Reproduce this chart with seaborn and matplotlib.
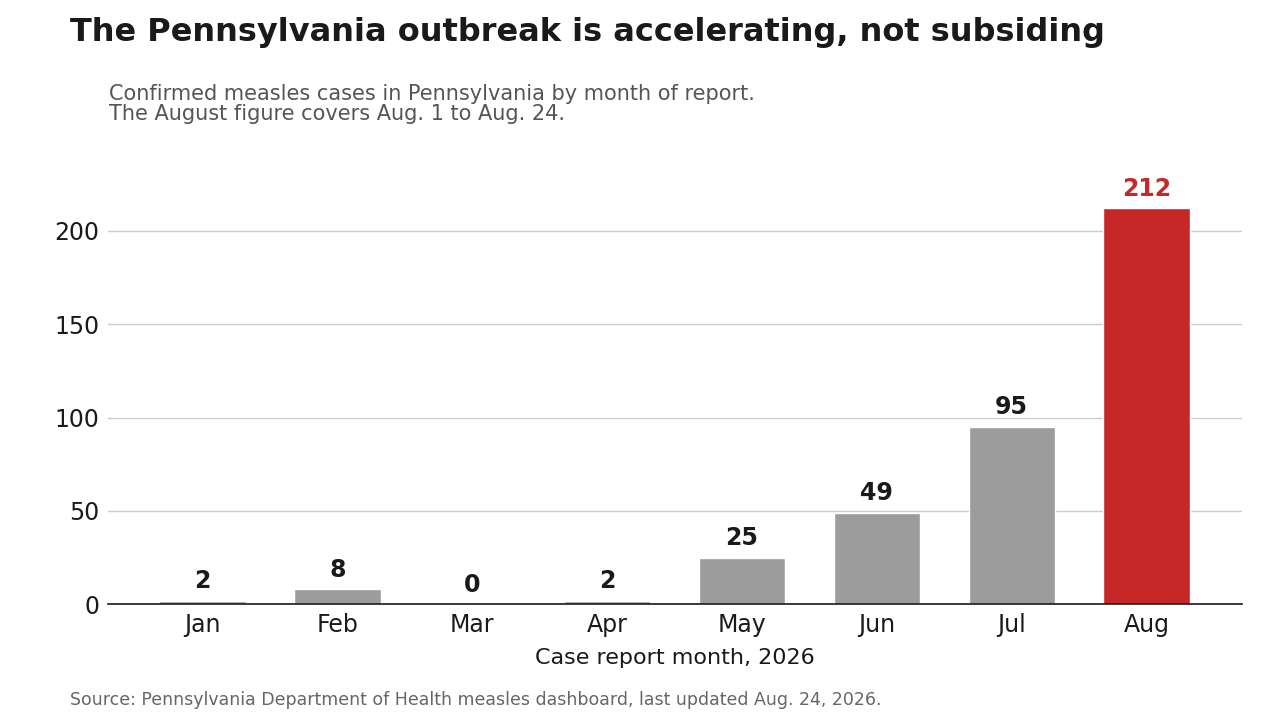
import matplotlib
matplotlib.use("Agg")
import matplotlib.pyplot as plt
import seaborn as sns
import pandas as pd

MONTHS = ["Jan", "Feb", "Mar", "Apr", "May", "Jun", "Jul", "Aug"]
CASES = [2, 8, 0, 2, 25, 49, 95, 212]
GREY = "#9c9c9c"
RED = "#c62828"

sns.set_theme(style="white")
plt.rcParams["font.family"] = ["DejaVu Sans"]

df = pd.DataFrame({"month": MONTHS, "cases": CASES})
colors = [GREY] * (len(MONTHS) - 1) + [RED]

fig = plt.figure(figsize=(12.8, 7.16), dpi=100)
ax = fig.add_axes([0.084, 0.156, 0.886, 0.587])

sns.barplot(data=df, x="month", y="cases", hue="month", palette=colors,
            legend=False, width=0.64, saturation=1, ax=ax)

ax.set_ylim(0, 225)
ax.set_xlim(-0.705, len(MONTHS) - 1 + 0.705)
ax.set_yticks([0, 50, 100, 150, 200])
ax.yaxis.grid(True, color="#cccccc", linewidth=1)
ax.set_axisbelow(True)
for s in ["top", "right", "left"]:
    ax.spines[s].set_visible(False)
ax.spines["bottom"].set_color("#1a1a1a")
ax.spines["bottom"].set_linewidth(1.2)
ax.tick_params(axis="both", labelsize=17, colors="#1a1a1a", length=0, pad=6)
ax.set_ylabel("")
ax.set_xlabel("Case report month, 2026", fontsize=16, color="#1a1a1a", labelpad=8)

for i, v in enumerate(CASES):
    ax.text(i, v + 4, str(v), ha="center", va="bottom", fontsize=17,
            fontweight="bold", color=RED if i == len(CASES) - 1 else "#1a1a1a")

fig.text(0.055, 0.955, "The Pennsylvania outbreak is accelerating, not subsiding",
         fontsize=23, fontweight="bold", color="#1a1a1a", va="center")
fig.text(0.085, 0.855, "Confirmed measles cases in Pennsylvania by month of report.\n"
         "The August figure covers Aug. 1 to Aug. 24.",
         fontsize=15, color="#555555", va="center", linespacing=1.0)
fig.text(0.055, 0.022, "Source: Pennsylvania Department of Health measles dashboard, "
         "last updated Aug. 24, 2026.", fontsize=12.5, color="#666666", va="center")

fig.savefig("out.png", dpi=100)
